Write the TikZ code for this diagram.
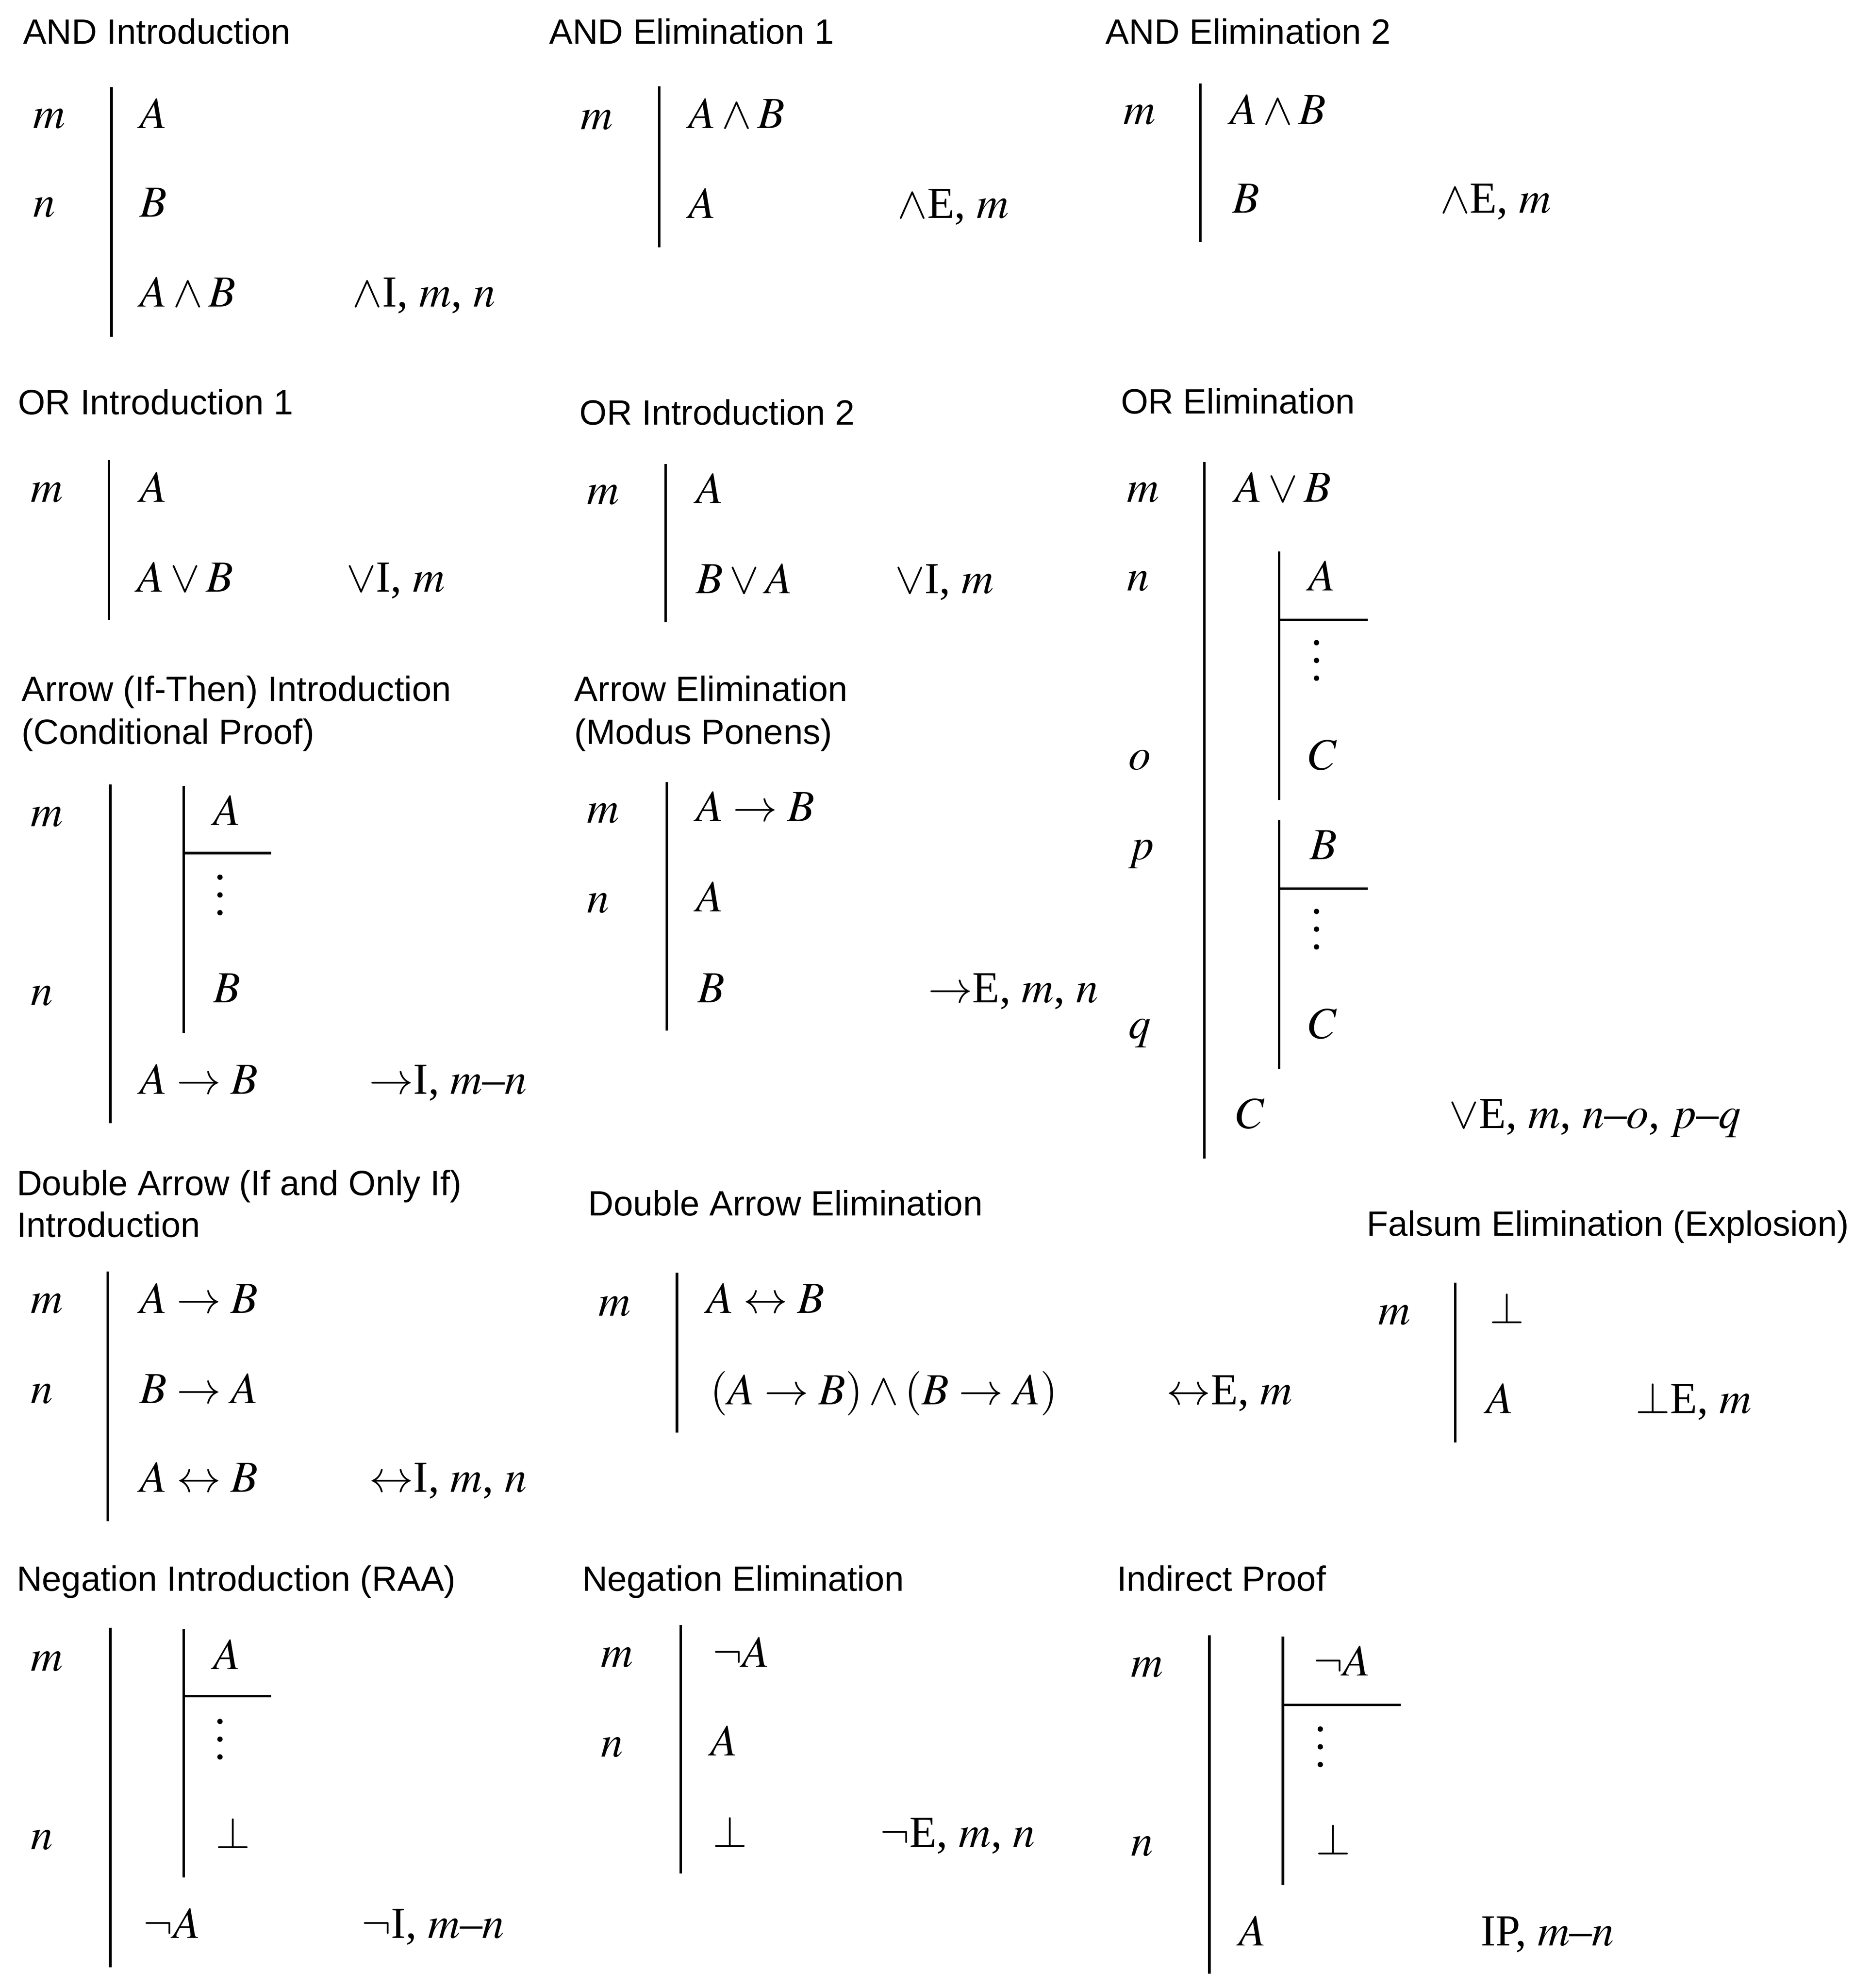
\documentclass[tikz,border=0pt]{standalone}
\usepackage{mathptmx}
\usepackage[no-math]{fontspec}
\setmainfont{Liberation Serif}
\newfontfamily\hfont{Liberation Sans}
\tikzset{
  hd/.style={anchor=base west, inner sep=0pt, font=\hfont\fontsize{27.7}{33}\selectfont},
  fm/.style={anchor=base west, inner sep=0pt, font=\fontsize{35}{40}\selectfont},
  bar/.style={line width=2pt},
  vdot/.style={fill=black},
}
\newcommand{\vd}[2]{%
  \fill[vdot] (#1,#2-14) circle (2.1);
  \fill[vdot] (#1,#2) circle (2.1);
  \fill[vdot] (#1,#2+14) circle (2.1);}
\begin{document}
\begin{tikzpicture}[x=1pt,y=-1pt]
\fill[white] (0,0) rectangle (1475,1568.3);
\useasboundingbox (0,0) rectangle (1475,1568.3);

% ---------- Panel 1: AND Introduction
\node[hd] (p1h) at (18,34.8) {AND Introduction};
\node[fm] (p1m) at (26,101) {$m$};
\node[fm] (p1n) at (26,171) {$n$};
\node[fm] (p1a) at (110,101) {$A$};
\node[fm] (p1b) at (110,171) {$B$};
\node[fm] (p1c) at (110,242) {$A\wedge B$};
\node[fm] (p1j) at (278,242) {$\wedge$I, $m$, $n$};
\draw[bar] (88,68.7) -- (88,265.8);

% ---------- Panel 2: AND Elimination 1
\node[hd] (p2h) at (433,34.8) {AND Elimination 1};
\node[fm] (p2m) at (458,102) {$m$};
\node[fm] (p2a) at (543,101) {$A\wedge B$};
\node[fm] (p2b) at (543,172) {$A$};
\node[fm] (p2j) at (708,172) {$\wedge$E, $m$};
\draw[bar] (520,68) -- (520,195);

% ---------- Panel 3: AND Elimination 2
\node[hd] (p3h) at (872,34.8) {AND Elimination 2};
\node[fm] (p3m) at (886,98) {$m$};
\node[fm] (p3a) at (970,98) {$A\wedge B$};
\node[fm] (p3b) at (972,168) {$B$};
\node[fm] (p3j) at (1136,168) {$\wedge$E, $m$};
\draw[bar] (947,66) -- (947,191);

% ---------- Panel 4: OR Introduction 1
\node[hd] (p4h) at (14,327) {OR Introduction 1};
\node[fm] (p4m) at (24,396) {$m$};
\node[fm] (p4a) at (110,396) {$A$};
\node[fm] (p4b) at (108,467) {$A\vee B$};
\node[fm] (p4j) at (273,467) {$\vee$I, $m$};
\draw[bar] (86,363) -- (86,489);

% ---------- Panel 5: OR Introduction 2
\node[hd] (p5h) at (457,335) {OR Introduction 2};
\node[fm] (p5m) at (463,398) {$m$};
\node[fm] (p5a) at (549,397) {$A$};
\node[fm] (p5b) at (549,468) {$B\vee A$};
\node[fm] (p5j) at (706,468) {$\vee$I, $m$};
\draw[bar] (525,366) -- (525,491);

% ---------- Panel 6: OR Elimination
\node[hd] (p6h) at (884,326.5) {OR Elimination};
\node[fm] (p6m) at (889,396) {$m$};
\node[fm] (p6n) at (889,466) {$n$};
\node[fm] (p6o) at (890,607) {$o$};
\node[fm] (p6p) at (890,678) {$p$};
\node[fm] (p6q) at (890,819) {$q$};
\node[fm] (p6a) at (974,396) {$A\vee B$};
\node[fm] (p6b) at (1032,466) {$A$};
\node[fm] (p6c) at (1032,607) {$C$};
\node[fm] (p6d) at (1033,678) {$B$};
\node[fm] (p6e) at (1032,819) {$C$};
\node[fm] (p6f) at (975,890) {$C$};
\node[fm] (p6j) at (1143,890) {$\vee$E, $m$, $n$\textendash$o$, $p$\textendash$q$};
\draw[bar] (950,364.5) -- (950,914);
\draw[bar] (1009,435) -- (1009,631);
\draw[bar] (1009,489) -- (1079,489);
\draw[bar] (1009,647) -- (1009,843.5);
\draw[bar] (1009,701) -- (1079,701);
\vd{1038.5}{521}
\vd{1038.5}{733}

% ---------- Panel 7: Arrow Introduction
\node[hd] (p7h) at (17,553) {Arrow (If-Then) Introduction};
\node[hd] (p7h2) at (17,587) {(Conditional Proof)};
\node[fm] (p7m) at (24,652) {$m$};
\node[fm] (p7n) at (24,793) {$n$};
\node[fm] (p7a) at (168,651) {$A$};
\node[fm] (p7b) at (168,791) {$B$};
\node[fm] (p7c) at (110,863) {$A\to B$};
\node[fm] (p7j) at (291,863) {$\to$I, $m$\textendash$n$};
\draw[bar] (87,619) -- (87,886);
\draw[bar] (145,620) -- (145,815);
\draw[bar] (145,673) -- (214,673);
\vd{173.5}{706}

% ---------- Panel 8: Arrow Elimination
\node[hd] (p8h) at (453,553) {Arrow Elimination};
\node[hd] (p8h2) at (453,587) {(Modus Ponens)};
\node[fm] (p8m) at (463,649) {$m$};
\node[fm] (p8n) at (463,720) {$n$};
\node[fm] (p8a) at (549,648) {$A\to B$};
\node[fm] (p8b) at (549,719) {$A$};
\node[fm] (p8c) at (550,791) {$B$};
\node[fm] (p8j) at (732,791) {$\to$E, $m$, $n$};
\draw[bar] (526,617) -- (526,813);

% ---------- Panel 9: Double Arrow Introduction
\node[hd] (p9h) at (13,943) {Double Arrow (If and Only If)};
\node[hd] (p9h2) at (13,976) {Introduction};
\node[fm] (p9m) at (24,1036) {$m$};
\node[fm] (p9n) at (24,1107) {$n$};
\node[fm] (p9a) at (110,1036) {$A\to B$};
\node[fm] (p9b) at (110,1107) {$B\to A$};
\node[fm] (p9c) at (110,1177) {$A\leftrightarrow B$};
\node[fm] (p9j) at (291,1177) {$\leftrightarrow$I, $m$, $n$};
\draw[bar] (85,1003) -- (85,1200);

% ---------- Panel 10: Double Arrow Elimination
\node[hd] (p10h) at (464,959) {Double Arrow Elimination};
\node[fm] (p10m) at (472,1038) {$m$};
\node[fm] (p10a) at (557,1036) {$A\leftrightarrow B$};
\node[fm] (p10b) at (560,1108) {$(A\to B)\wedge(B\to A)$};
\node[fm] (p10j) at (920,1108) {$\leftrightarrow$E, $m$};
\draw[bar] (534,1004) -- (534,1130);

% ---------- Panel 11: Falsum Elimination
\node[hd] (p11h) at (1078,975) {Falsum Elimination (Explosion)};
\node[fm] (p11m) at (1087,1045) {$m$};
\node[fm] (p11a) at (1175,1044) {$\bot$};
\node[fm] (p11b) at (1172,1115) {$A$};
\node[fm] (p11j) at (1290,1115) {$\bot$E, $m$};
\draw[bar] (1148,1012) -- (1148,1138);

% ---------- Panel 12: Negation Introduction
\node[hd] (p12h) at (13,1255) {Negation Introduction (RAA)};
\node[fm] (p12m) at (24,1318) {$m$};
\node[fm] (p12n) at (24,1459) {$n$};
\node[fm] (p12a) at (168,1317) {$A$};
\node[fm] (p12b) at (170,1458) {$\bot$};
\node[fm] (p12c) at (113,1529) {$\neg A$};
\node[fm] (p12j) at (285,1529) {$\neg$I, $m$\textendash$n$};
\draw[bar] (87,1284) -- (87,1552);
\draw[bar] (145,1285) -- (145,1481);
\draw[bar] (145,1338) -- (214,1338);
\vd{173.5}{1372}

% ---------- Panel 13: Negation Elimination
\node[hd] (p13h) at (459,1255) {Negation Elimination};
\node[fm] (p13m) at (474,1315) {$m$};
\node[fm] (p13n) at (474,1386) {$n$};
\node[fm] (p13a) at (562,1315) {$\neg A$};
\node[fm] (p13b) at (560,1385) {$A$};
\node[fm] (p13c) at (562,1457) {$\bot$};
\node[fm] (p13j) at (694,1457) {$\neg$E, $m$, $n$};
\draw[bar] (537,1282) -- (537,1478);

% ---------- Panel 14: Indirect Proof
\node[hd] (p14h) at (881,1255) {Indirect Proof};
\node[fm] (p14m) at (892,1323) {$m$};
\node[fm] (p14n) at (892,1464) {$n$};
\node[fm] (p14a) at (1036,1322) {$\neg A$};
\node[fm] (p14b) at (1038,1463) {$\bot$};
\node[fm] (p14c) at (977,1535) {$A$};
\node[fm] (p14j) at (1168,1535) {IP, $m$\textendash$n$};
\draw[bar] (954,1290) -- (954,1557);
\draw[bar] (1012,1291) -- (1012,1487);
\draw[bar] (1012,1345) -- (1105,1345);
\vd{1041.5}{1378}
\end{tikzpicture}
\end{document}
